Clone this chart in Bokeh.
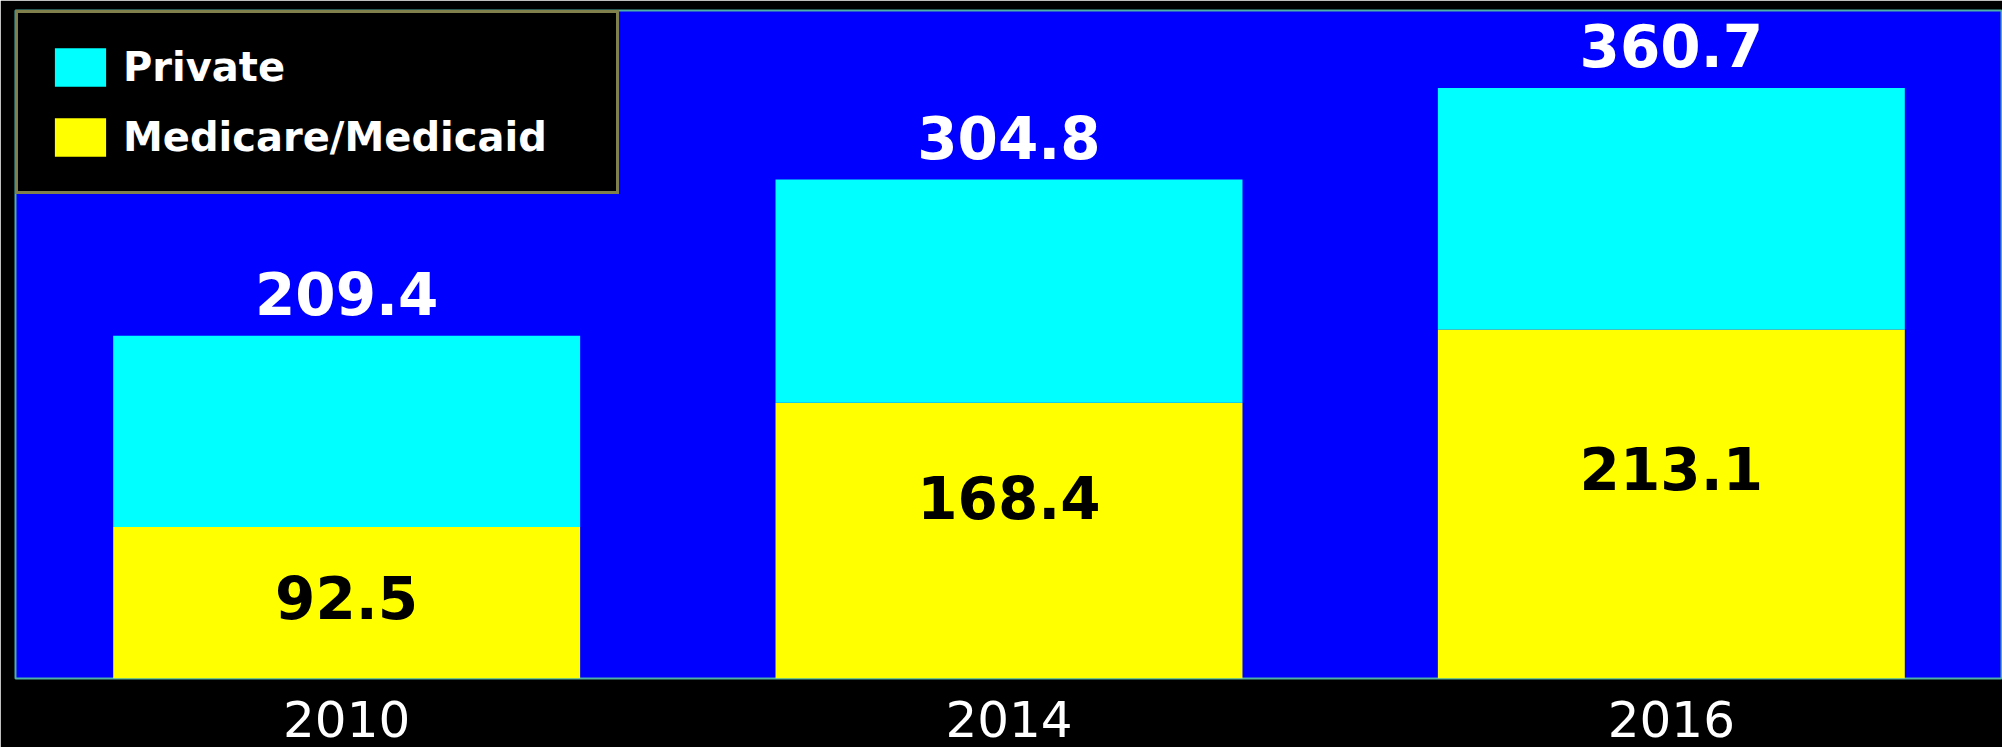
from bokeh.plotting import figure
from bokeh.models import ColumnDataSource, Range1d, FactorRange, Legend, LegendItem, LabelSet
from bokeh.embed import file_html
from bokeh.resources import INLINE
from bokeh.core.properties import value

# ---- data ----
years = ["2010", "2014", "2016"]
medicare = [92.5, 168.4, 213.1]
totals = [209.4, 304.8, 360.7]
private = [round(t - m, 1) for t, m in zip(totals, medicare)]
# where the inner (Medicare/Medicaid) value labels sit, in data units
inner_label_at = [47, 108, 126]

src = ColumnDataSource(dict(
    year=years,
    medicare=medicare,
    private=private,
    total=totals,
    total_lbl=[f"{v:.1f}" for v in totals],
    med_lbl=[f"{v:.1f}" for v in medicare],
    inner_y=inner_label_at,
))

p = figure(
    x_range=FactorRange(*years, range_padding=0),
    y_range=Range1d(0, 408),
    width=2002, height=747,
    output_backend="svg", toolbar_location=None,
    y_axis_location=None,
    background_fill_color="#0000ff",
    border_fill_color="black",
    min_border_left=15, min_border_top=10, min_border_right=0, min_border_bottom=69,
)
p.outline_line_color = "#4fb0a8"
p.outline_line_width = 2
p.xgrid.visible = False
p.ygrid.visible = False

rs = p.vbar_stack(["medicare", "private"], x="year", width=0.705,
                  color=["#ffff00", "#00ffff"], line_color=None, source=src)

ax = p.xaxis[0]
ax.axis_line_color = None
ax.major_tick_line_color = None
ax.minor_tick_line_color = None
ax.major_tick_out = 0
ax.major_tick_in = 0
ax.major_label_standoff = 22
ax.major_label_text_color = "white"
ax.major_label_text_font = "DejaVu Sans"
ax.major_label_text_font_size = "50px"
ax.major_label_text_line_height = 0.8

top_labels = LabelSet(x="year", y="total", text="total_lbl", source=src,
                      y_offset=42, text_align="center", text_baseline="middle",
                      text_color="white", text_font=value("DejaVu Sans"),
                      text_font_style="bold", text_font_size="58px")
inner_labels = LabelSet(x="year", y="inner_y", text="med_lbl", source=src,
                        y_offset=4, text_align="center", text_baseline="middle",
                        text_color="black", text_font=value("DejaVu Sans"),
                        text_font_style="bold", text_font_size="58px")
p.add_layout(top_labels)
p.add_layout(inner_labels)

legend = Legend(items=[
    LegendItem(label="Private", renderers=[rs[1]]),
    LegendItem(label="Medicare/Medicaid", renderers=[rs[0]]),
], location="top_left", margin=0)
legend.border_line_color = "#ffff99"
legend.border_line_width = 3
legend.background_fill_color = "black"
legend.background_fill_alpha = 1
legend.label_text_color = "white"
legend.label_text_font = "DejaVu Sans"
legend.label_text_font_style = "bold"
legend.label_text_font_size = "40px"
legend.glyph_width = 64
legend.glyph_height = 48
legend.padding = 30
legend.spacing = 22
legend.label_standoff = 11
legend.label_width = 463
legend.label_height = 48
p.add_layout(legend)

open("out.html", "w").write(file_html(p, INLINE))
